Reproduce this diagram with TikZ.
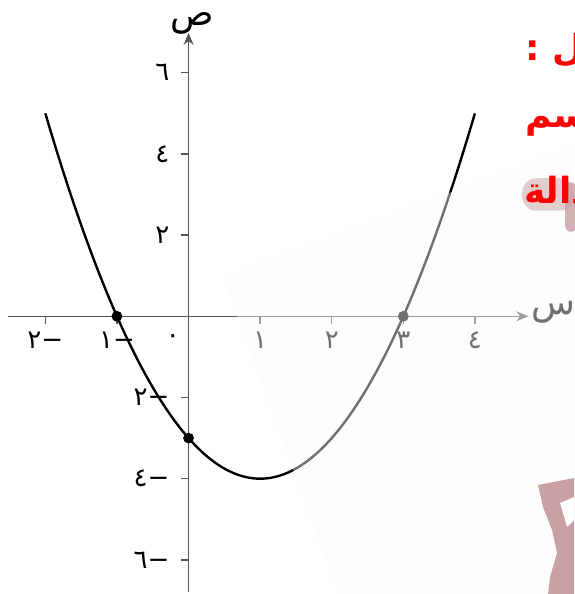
\documentclass[tikz,border=0pt]{standalone}
\usepackage{fontspec}
\newfontfamily\arabicfont[Script=Arabic]{DejaVu Sans}
\TeXXeTstate=1
\usetikzlibrary{arrows.meta}
\definecolor{axisgray}{HTML}{555555}
\definecolor{titlered}{HTML}{FF0000}
\definecolor{markpink}{HTML}{C9A0A3}
\tikzset{
  axisline/.style={axisgray,line width=0.65pt},
  dot/.style={circle,fill=black,inner sep=0pt,minimum size=5.4pt},
  redline/.style={titlered,anchor=base west,inner sep=0pt,font=\arabicfont\bfseries\fontsize{18}{20}\selectfont}
}
\begin{document}
\begin{tikzpicture}[x=35.8pt,y=20.3pt,font=\arabicfont\fontsize{13}{15}\selectfont]
\useasboundingbox (-2.633,-6.840) rectangle (5.384,7.790);
\coordinate (xs) at (-2.52,0); \coordinate (xe) at (4.746,0);
\coordinate (ys) at (0,-6.79); \coordinate (ye) at (0,6.98);
\draw[axisline,-{Stealth[length=6pt,width=5pt]}] (xs) -- (xe);
\draw[axisline,-{Stealth[length=6pt,width=5pt]}] (ys) -- (ye);
\node[font=\arabicfont\fontsize{18}{20}\selectfont] (labx) at (5.1,0.1) {س};
\node[font=\arabicfont\fontsize{18}{20}\selectfont] (laby) at (0.05,7.22) {ص};
\foreach \v/\lab [count=\i] in {-2/{−٢},-1/{−١},1/١,2/٢,3/٣,4/٤}{
  \draw[axisline] (\v,0) -- ++(0,-4pt);
  \node (tx\i) at (\v,-0.6) {\lab};}
\foreach \v/\lab [count=\i] in {-6/{−٦},-4/{−٤},-2/{−٢},2/٢,4/٤,6/٦}{
  \draw[axisline] (0,\v) -- ++(-4pt,0);
  \node[anchor=east] (ty\i) at (-0.17,\v) {\lab};}
\node (zero) at (-0.22,-0.55) {٠};
\draw[line width=1.2pt] plot[domain=-2:4,samples=120] (\x,{\x*\x-2*\x-3});
\node[dot] (rootl) at (-1,0) {};
\node[dot] (rootr) at (3,0) {};
\node[dot] (cuty) at (0,-3) {};
\fill[white!98!black,opacity=0.45] (0.482,0.968) -- (5.384,4.18) -- (5.384,-6.84) -- (2.095,-6.84) -- cycle;
\fill[markpink] (4.881,-4.155) -- (5.384,-3.983) -- (5.384,-6.84) -- (5.021,-6.84) -- (5.049,-6.421) -- (5.147,-5.83) -- (5.077,-5.264) -- (4.951,-4.697) -- cycle;
\fill[white] (5.189,-4.599) -- (5.384,-4.451) -- (5.384,-5.017) -- (5.287,-5.19) -- cycle;
\fill[markpink,opacity=0.5,rounded corners=7pt] (4.66,3.4) rectangle (5.384,2.6);
\fill[markpink,opacity=0.8,rounded corners=3pt] (5.26,3.3) rectangle (5.42,2.08);
\node[redline] (head) at (4.70,6.31) {\beginR الحل :\endR};
\node[redline] (draw) at (4.70,4.64) {\beginR نرسم\endR};
\node[redline] (func) at (4.68,2.79) {\beginR الدالة\endR};
\end{tikzpicture}
\end{document}
